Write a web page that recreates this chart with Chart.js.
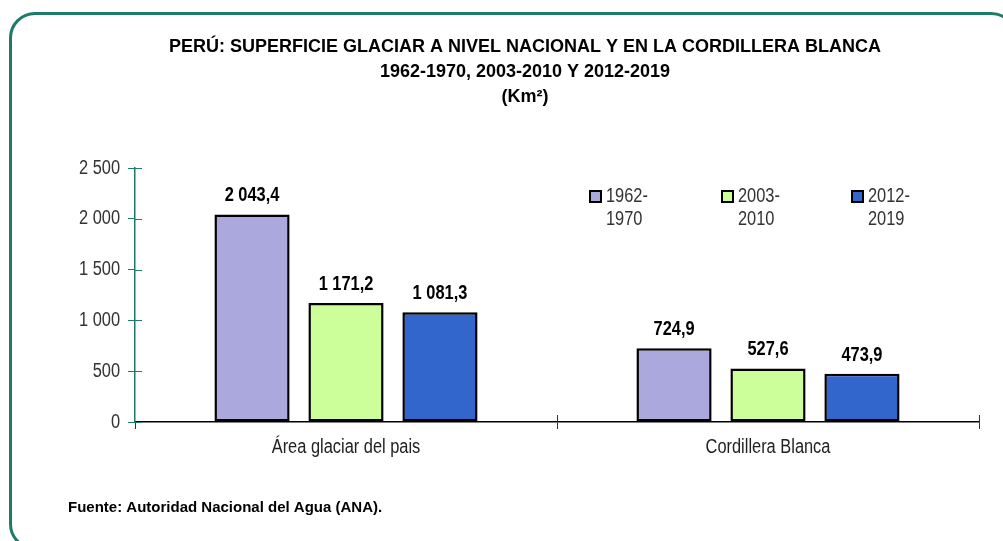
<!DOCTYPE html>
<html>
<head>
<meta charset="utf-8">
<script src="https://cdn.jsdelivr.net/npm/chart.js@4/dist/chart.umd.min.js"></script>
<style>
  html, body { margin: 0; padding: 0; background: #fff; overflow: hidden; }
  .wrap { position: relative; width: 1003px; height: 541px; }
  .frame {
    position: absolute; left: 9px; top: 12px; width: 1008px; height: 538px;
    border: 3px solid #1e7b68; border-radius: 26px; box-sizing: border-box;
  }
  canvas { position: absolute; left: 0; top: 0; }
</style>
</head>
<body>
<div class="wrap">
  <div class="frame"></div>
  <canvas id="glaciarChart" width="1003" height="541"></canvas>
</div>
<script>
// Datos
const categories = ["Área glaciar del pais", "Cordillera Blanca"];
const periods = [["1962-", "1970"], ["2003-", "2010"], ["2012-", "2019"]];
const values1962 = [2043.4, 724.9];
const values2003 = [1171.2, 527.6];
const values2012 = [1081.3, 473.9];
const yTicks = [0, 500, 1000, 1500, 2000, 2500];

const titleLines = [
  "PERÚ: SUPERFICIE GLACIAR A NIVEL NACIONAL Y EN LA CORDILLERA BLANCA",
  "1962-1970, 2003-2010 Y 2012-2019",
  "(Km²)"
];
const sourceText = "Fuente: Autoridad Nacional del Agua (ANA).";

const barColors = ["#aaa8dc", "#ccff99", "#3366cc"];
const FONT = "'Liberation Sans', Arial, sans-serif";
const NARROW = 0.82; // no hay Arial Narrow: se comprime el texto a mano

// formato peruano: espacio de miles, coma decimal
function fmt(v, dec) {
  const s = v.toFixed(dec).split(".");
  const ent = s[0].replace(/\B(?=(\d{3})+(?!\d))/g, " ");
  return s.length > 1 ? ent + "," + s[1] : ent;
}

// texto comprimido horizontalmente
function narrowText(ctx, text, x, y, align, sx) {
  ctx.save();
  ctx.translate(x, y);
  ctx.scale(sx, 1);
  ctx.textAlign = align;
  ctx.fillText(text, 0, 0);
  ctx.restore();
}

// Title, source, axis labels, legend, value labels and inner tick marks
const decorations = {
  id: "decorations",
  afterDraw(chart) {
    const ctx = chart.ctx;
    const area = chart.chartArea;
    const xs = chart.scales.x;
    const ys = chart.scales.y;
    ctx.save();

    // title
    ctx.fillStyle = "#000";
    ctx.textBaseline = "middle";
    ctx.font = "bold 18px " + FONT;
    titleLines.forEach((t, i) => narrowText(ctx, t, 525, 47 + i * 25, "center", 1));

    // source
    ctx.font = "bold 15px " + FONT;
    narrowText(ctx, sourceText, 68, 508, "left", 1);

    // y tick labels
    ctx.fillStyle = "#333";
    ctx.font = "20px " + FONT;
    yTicks.forEach(v => narrowText(ctx, fmt(v, 0), 120, ys.getPixelForValue(v), "right", NARROW));

    // x labels
    ctx.fillStyle = "#222";
    categories.forEach((c, i) => narrowText(ctx, c, xs.getPixelForValue(i), 447, "center", NARROW));

    // value labels
    ctx.fillStyle = "#000";
    ctx.textBaseline = "alphabetic";
    ctx.font = "bold 20px " + FONT;
    chart.data.datasets.forEach((ds, i) => {
      chart.getDatasetMeta(i).data.forEach((bar, j) => {
        narrowText(ctx, fmt(ds.data[j], 1), bar.x, bar.y - 13, "center", NARROW);
      });
    });

    // legend
    ctx.textBaseline = "middle";
    ctx.font = "20px " + FONT;
    const legX = [area.left + 455, area.left + 587, area.left + 717];
    periods.forEach((p, i) => {
      const x = legX[i], y = area.top + 28;
      ctx.fillStyle = barColors[i];
      ctx.fillRect(x, y - 5, 11, 11);
      ctx.strokeStyle = "#000";
      ctx.lineWidth = 2;
      ctx.strokeRect(x, y - 5, 11, 11);
      ctx.fillStyle = "#333";
      narrowText(ctx, p[0], x + 16, y, "left", NARROW);
      narrowText(ctx, p[1], x + 16, y + 23, "left", NARROW);
    });

    // inner part of tick marks
    ctx.strokeStyle = "#1e7b68";
    ctx.lineWidth = 1;
    yTicks.forEach(v => {
      const py = Math.round(ys.getPixelForValue(v)) + 0.5;
      ctx.beginPath();
      ctx.moveTo(area.left, py);
      ctx.lineTo(area.left + 7, py);
      ctx.stroke();
    });
    ctx.strokeStyle = "#333";
    const step = (area.right - area.left) / categories.length;
    for (let k = 1; k <= categories.length; k++) {
      const px = Math.round(area.left + step * k) + 0.5;
      ctx.beginPath();
      ctx.moveTo(px, area.bottom - 7);
      ctx.lineTo(px, area.bottom);
      ctx.stroke();
    }
    ctx.restore();
  }
};

new Chart(document.getElementById("glaciarChart"), {
  type: "bar",
  data: {
    labels: categories,
    datasets: [
      { label: periods[0].join(""), data: values1962, backgroundColor: barColors[0] },
      { label: periods[1].join(""), data: values2003, backgroundColor: barColors[1] },
      { label: periods[2].join(""), data: values2012, backgroundColor: barColors[2] }
    ]
  },
  options: {
    responsive: false,
    animation: false,
    layout: { padding: { top: 168, right: 24, left: 0, bottom: 0 } },
    datasets: {
      bar: {
        borderColor: "#000",
        borderWidth: 2.5,
        borderSkipped: false,
        categoryPercentage: 0.668,
        barPercentage: 0.8
      }
    },
    plugins: {
      legend: { display: false },
      title: { display: false },
      tooltip: { enabled: false }
    },
    scales: {
      x: {
        grid: { drawOnChartArea: false, tickLength: 7, color: "#333", offset: true },
        border: { color: "#000", width: 1.5 },
        ticks: { color: "rgba(0,0,0,0)" },
        afterFit(scale) { scale.height = 119; }
      },
      y: {
        min: 0,
        max: 2500,
        afterBuildTicks(scale) { scale.ticks = yTicks.map(v => ({ value: v })); },
        grid: { drawOnChartArea: false, tickLength: 7, color: "#1e7b68" },
        border: { color: "#1e7b68", width: 1.5 },
        ticks: { color: "rgba(0,0,0,0)" },
        afterFit(scale) { scale.width = 135; }
      }
    }
  },
  plugins: [decorations]
});
</script>
</body>
</html>
